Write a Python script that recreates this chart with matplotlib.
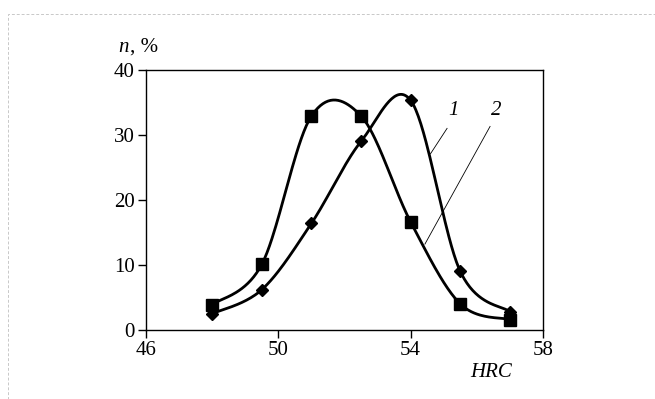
import matplotlib.pyplot as plt
import numpy as np
from matplotlib.patches import Rectangle

hrc = [48, 49.5, 51, 52.5, 54, 55.5, 57]
n_curve1 = [2.5, 6.2, 16.4, 29.0, 35.3, 9.0, 2.8]   # diamonds
n_curve2 = [3.9, 10.1, 32.9, 32.9, 16.6, 4.0, 1.6]  # squares
x_ticks = [46, 50, 54, 58]
y_ticks = [0, 10, 20, 30, 40]


def smooth(x, y, steps=40):
    # Catmull-Rom style bezier, like a spreadsheet "smoothed line"
    x = np.asarray(x, float)
    y = np.asarray(y, float)
    pts = np.column_stack([x, y])
    out = []
    for i in range(len(pts) - 1):
        p0 = pts[i - 1] if i > 0 else pts[i]
        p1 = pts[i]
        p2 = pts[i + 1]
        p3 = pts[i + 2] if i + 2 < len(pts) else pts[i + 1]
        c1 = p1 + (p2 - p0) / 6
        c2 = p2 - (p3 - p1) / 6
        t = np.linspace(0, 1, steps)[:, None]
        seg = ((1 - t) ** 3) * p1 + 3 * ((1 - t) ** 2) * t * c1 \
            + 3 * (1 - t) * t ** 2 * c2 + t ** 3 * p2
        out.append(seg if i == 0 else seg[1:])
    seg = np.vstack(out)
    return seg[:, 0], seg[:, 1]


plt.rcParams['font.family'] = 'Liberation Serif'
fig = plt.figure(figsize=(6.55, 3.99), dpi=100)
ax = fig.add_axes([0.223, 0.173, 0.606, 0.652])

sx, sy = smooth(hrc, n_curve1)
ax.plot(sx, sy, color='black', lw=2.0)
ax.plot(hrc, n_curve1, ls='none', marker='D', ms=6, color='black')

sx, sy = smooth(hrc, n_curve2)
ax.plot(sx, sy, color='black', lw=2.0)
ax.plot(hrc, n_curve2, ls='none', marker='s', ms=9, color='black')

ax.set_xlim(46, 58)
ax.set_ylim(0, 40)
ax.set_xticks(x_ticks)
ax.set_yticks(y_ticks)
ax.tick_params(direction='out', length=6, width=1, labelsize=15, pad=2)
for s in ax.spines.values():
    s.set_linewidth(1.0)

# curve labels with leader lines
ax.text(55.3, 33.8, '1', fontsize=15, style='italic', va='center', ha='center')
ax.plot([55.1, 54.6], [31.0, 27.1], color='black', lw=0.6)
ax.text(56.6, 33.8, '2', fontsize=15, style='italic', va='center', ha='center')
ax.plot([56.4, 54.43], [31.3, 13.2], color='black', lw=0.6)

fig.text(0.18, 0.87, 'n', fontsize=15, style='italic')
fig.text(0.199, 0.87, ', %', fontsize=15)
fig.text(0.718, 0.055, 'HRC', fontsize=15, style='italic')

# faint scan border
fig.patches.append(Rectangle((0.012, -0.02), 1.0, 0.985, transform=fig.transFigure,
                             fill=False, ls=(0, (3, 2)), lw=0.7, ec='#c8c8c8'))

plt.savefig('out.png', dpi=100)
